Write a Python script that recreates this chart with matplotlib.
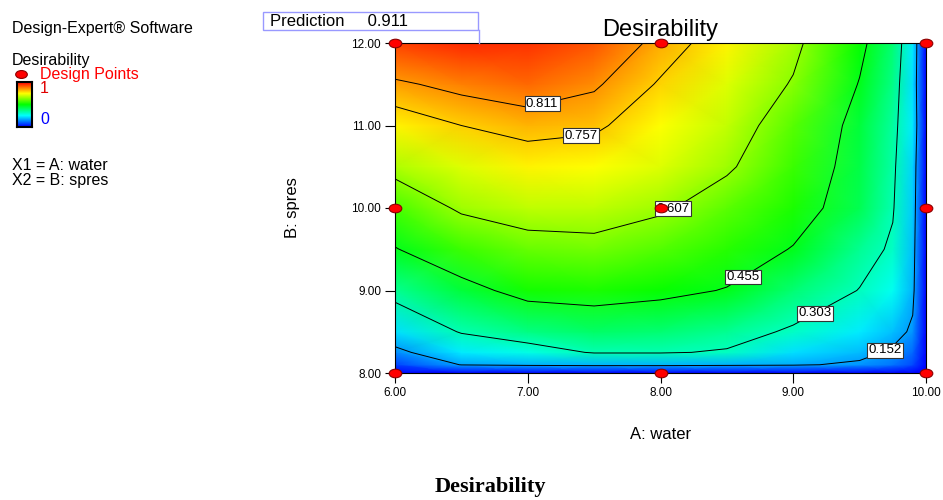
import numpy as np
import matplotlib.pyplot as plt
from matplotlib.colors import LinearSegmentedColormap
from matplotlib.markers import MarkerStyle
from matplotlib.transforms import Affine2D
from matplotlib.lines import Line2D
from matplotlib.patches import Rectangle

plt.rcParams['font.family'] = ['Liberation Sans', 'DejaVu Sans']

# --- data ---
water = [6.0, 6.5, 7.0, 7.5, 8.0, 8.5, 9.0, 9.5, 9.75, 9.9, 10.0]
spres = [8.0, 8.1, 8.25, 8.5, 9.0, 9.5, 10.0, 10.5, 11.0, 11.5, 12.0]
# one row per spres value, one column per water value
desir = [
    [0.00, 0.00, 0.00, 0.00, 0.00, 0.00, 0.00, 0.00, 0.00, 0.00, 0.0],
    [0.06, 0.155, 0.165, 0.17, 0.17, 0.165, 0.16, 0.14, 0.11, 0.07, 0.0],
    [0.13, 0.22, 0.26, 0.31, 0.31, 0.295, 0.21, 0.175, 0.14, 0.10, 0.0],
    [0.21, 0.31, 0.355, 0.38, 0.37, 0.34, 0.29, 0.22, 0.18, 0.14, 0.0],
    [0.34, 0.42, 0.49, 0.50, 0.48, 0.45, 0.37, 0.30, 0.25, 0.17, 0.0],
    [0.45, 0.53, 0.57, 0.58, 0.55, 0.51, 0.45, 0.34, 0.29, 0.18, 0.0],
    [0.54, 0.62, 0.65, 0.65, 0.62, 0.56, 0.50, 0.40, 0.31, 0.19, 0.0],
    [0.635, 0.68, 0.72, 0.71, 0.68, 0.62, 0.53, 0.41, 0.32, 0.20, 0.0],
    [0.72, 0.757, 0.78, 0.77, 0.71, 0.655, 0.555, 0.42, 0.33, 0.22, 0.0],
    [0.80, 0.83, 0.85, 0.82, 0.75, 0.68, 0.60, 0.45, 0.35, 0.21, 0.0],
    [0.89, 0.91, 0.905, 0.87, 0.79, 0.72, 0.63, 0.48, 0.37, 0.22, 0.0],
]
levels = [0.152, 0.303, 0.455, 0.607, 0.757, 0.811]
label_pos = [(9.70, 8.25), (9.19, 8.64), (8.62, 9.17), (8.10, 9.98),
             (7.40, 10.95), (7.10, 11.32)]

design_x = [6, 6, 6, 8, 8, 8, 10, 10, 10]
design_y = [8, 10, 12, 8, 10, 12, 8, 10, 12]

pred_value = 0.911
pred_x = 6.63

x_ticks = [6, 7, 8, 9, 10]
y_ticks = [8, 9, 10, 11, 12]

cmap = LinearSegmentedColormap.from_list(
    'de', ['#0000FF', '#00FFFF', '#00FF00', '#FFFF00', '#FF0000'])

W, H = 943, 500
fig = plt.figure(figsize=(W / 100, H / 100), dpi=100)
ax = fig.add_axes([395 / W, 1 - 373 / H, 531 / W, 330 / H])

X, Y = np.meshgrid(water, spres)
Z = np.array(desir)

ax.pcolormesh(X, Y, Z, shading='gouraud', cmap=cmap, vmin=0, vmax=0.95)
cs = ax.contour(X, Y, Z, levels=levels, colors='black', linewidths=0.7)
texts = ax.clabel(cs, levels, fmt='%.3f', inline=False, manual=label_pos,
                  fontsize=9.5)
for t in texts:
    t.set_rotation(0)
    t.set_bbox(dict(facecolor='white', edgecolor='#333333', pad=1.0,
                    linewidth=0.8))
    t.set_zorder(5)

# design points
m = MarkerStyle('o', transform=Affine2D().scale(1.4, 0.95))
ax.plot(design_x, design_y, ls='none', marker=m, ms=6.5,
        mfc='#FF0000', mec='#8B0000', mew=0.8, clip_on=False, zorder=6)

ax.set_xlim(6, 10)
ax.set_ylim(8, 12)
ax.set_xticks(x_ticks)
ax.set_yticks(y_ticks)
ax.set_xticklabels(['%.2f' % v for v in x_ticks])
ax.set_yticklabels(['%.2f' % v for v in y_ticks])
ax.tick_params(direction='out', length=7, width=0.8, labelsize=8.5, pad=3)
for s in ax.spines.values():
    s.set_linewidth(0.8)

ax.set_title('Desirability', fontsize=17, pad=5)
ax.set_xlabel('A: water', fontsize=12)
ax.xaxis.set_label_coords(0.5, -0.165)
ax.set_ylabel('B: spres', fontsize=12)
ax.yaxis.set_label_coords(-0.179, 0.5)

# prediction box
fig.add_artist(Rectangle((263 / W, 1 - 30 / H), 215 / W, 18 / H,
                         transform=fig.transFigure, fill=False,
                         edgecolor='#9999FF', linewidth=1))
fig.text(270 / W, 1 - 21 / H, 'Prediction     %.3f' % pred_value,
         fontsize=12, va='center')
px = 395 + (pred_x - 6) / 4 * 531
fig.add_artist(Line2D([px / W, px / W], [1 - 30 / H, 1 - 43 / H],
                      transform=fig.transFigure, color='#9999FF', lw=1))

# left legend
fig.text(12 / W, 1 - 28 / H, 'Design-Expert® Software', fontsize=11.5, va='center')
fig.text(12 / W, 1 - 60 / H, 'Desirability', fontsize=11.5, va='center')
fig.add_artist(Line2D([21 / W], [1 - 74 / H], transform=fig.transFigure,
                      marker=m, ms=6, mfc='#FF0000', mec='#8B0000', mew=0.8))
fig.text(40 / W, 1 - 74 / H, 'Design Points', color='#FF0000', fontsize=11.5,
         va='center')
cax = fig.add_axes([17 / W, 1 - 127 / H, 15 / W, 45 / H])
cax.imshow(np.linspace(1, 0, 100).reshape(-1, 1), aspect='auto', cmap=cmap)
cax.set_xticks([])
cax.set_yticks([])
for s in cax.spines.values():
    s.set_linewidth(1.5)
fig.text(40 / W, 1 - 89 / H, '1', color='#E00000', fontsize=11.5, va='center')
fig.text(40 / W, 1 - 120 / H, '0', color='#0000FF', fontsize=11.5, va='center')
fig.text(12 / W, 1 - 165 / H, 'X1 = A: water', fontsize=11.5, va='center')
fig.text(12 / W, 1 - 181 / H, 'X2 = B: spres', fontsize=11.5, va='center')

fig.text(490 / W, 1 - 487 / H, 'Desirability', family='Liberation Serif',
         weight='bold', fontsize=16, ha='center', va='center')

fig.savefig('out.png', dpi=100)
